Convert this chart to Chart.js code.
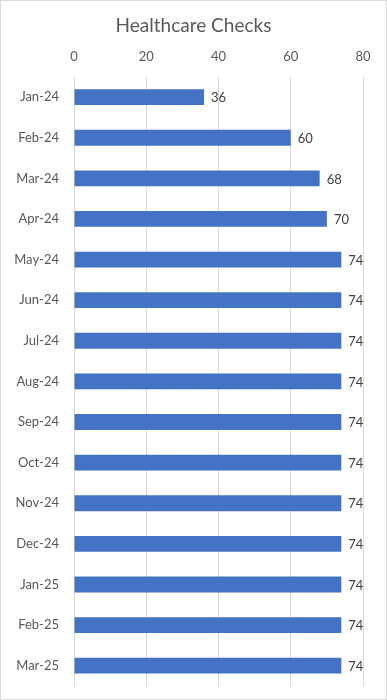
<!DOCTYPE html>
<html>
<head>
<meta charset="utf-8">
<script src="https://cdn.jsdelivr.net/npm/chart.js@4.4.1/dist/chart.umd.min.js"></script>
<style>
  html, body { margin: 0; padding: 0; background: #fff; }
  #wrap { position: relative; width: 385px; height: 698px; border: 1px solid #d9d9d9; }
  canvas { display: block; }
</style>
</head>
<body>
<div id="wrap"><canvas id="c" width="385" height="698"></canvas></div>
<script>
const categories = ["Jan-24","Feb-24","Mar-24","Apr-24","May-24","Jun-24","Jul-24","Aug-24","Sep-24","Oct-24","Nov-24","Dec-24","Jan-25","Feb-25","Mar-25"];
const checks = [36, 60, 68, 70, 74, 74, 74, 74, 74, 74, 74, 74, 74, 74, 74];
const xTicks = [0, 20, 40, 60, 80];

const FONT = "Lato, 'Noto Sans', sans-serif";

const valueLabels = {
  id: 'valueLabels',
  afterDatasetsDraw(chart) {
    const ctx = chart.ctx;
    const meta = chart.getDatasetMeta(0);
    ctx.save();
    ctx.font = "13px " + FONT;
    ctx.fillStyle = "#404040";
    ctx.textAlign = "left";
    ctx.textBaseline = "middle";
    meta.data.forEach((bar, i) => {
      ctx.fillText(String(chart.data.datasets[0].data[i]), bar.x + 7, bar.y + 1);
    });
    ctx.restore();
  }
};

new Chart(document.getElementById('c'), {
  type: 'bar',
  data: {
    labels: categories,
    datasets: [{
      label: 'Healthcare Checks',
      data: checks,
      backgroundColor: '#4472c4',
      borderWidth: 0,
      barPercentage: 0.39,
      categoryPercentage: 1.0
    }]
  },
  options: {
    indexAxis: 'y',
    responsive: false,
    animation: false,
    devicePixelRatio: 1,
    layout: { padding: { left: 0, right: 0, top: 0, bottom: 13 } },
    plugins: {
      legend: { display: false },
      tooltip: { enabled: false },
      title: {
        display: true,
        text: 'Healthcare Checks',
        color: '#595959',
        font: { family: FONT, size: 19, weight: 'normal' },
        padding: { top: 13, bottom: 5 }
      }
    },
    scales: {
      x: {
        position: 'top',
        min: 0,
        max: 80,
        afterBuildTicks(scale) { scale.ticks = xTicks.map(v => ({ value: v })); },
        afterFit(scale) { scale.height = 35; scale.paddingLeft = 0; scale.paddingRight = 0; },
        ticks: {
          color: '#595959',
          font: { family: FONT, size: 13 },
          padding: 12
        },
        grid: { color: '#d9d9d9', drawTicks: false, lineWidth: 1 },
        border: { display: false }
      },
      y: {
        afterFit(scale) { scale.width = 73; scale.paddingTop = 0; scale.paddingBottom = 0; },
        ticks: {
          color: '#595959',
          font: { family: FONT, size: 13 },
          padding: 15
        },
        grid: { display: false, drawTicks: false },
        border: { display: false }
      },
      yRight: {
        type: 'linear',
        position: 'right',
        afterFit(scale) { scale.width = 23; scale.paddingTop = 0; scale.paddingBottom = 0; },
        ticks: { display: false },
        grid: { display: false, drawTicks: false },
        border: { display: false }
      }
    }
  },
  plugins: [valueLabels]
});
</script>
</body>
</html>
